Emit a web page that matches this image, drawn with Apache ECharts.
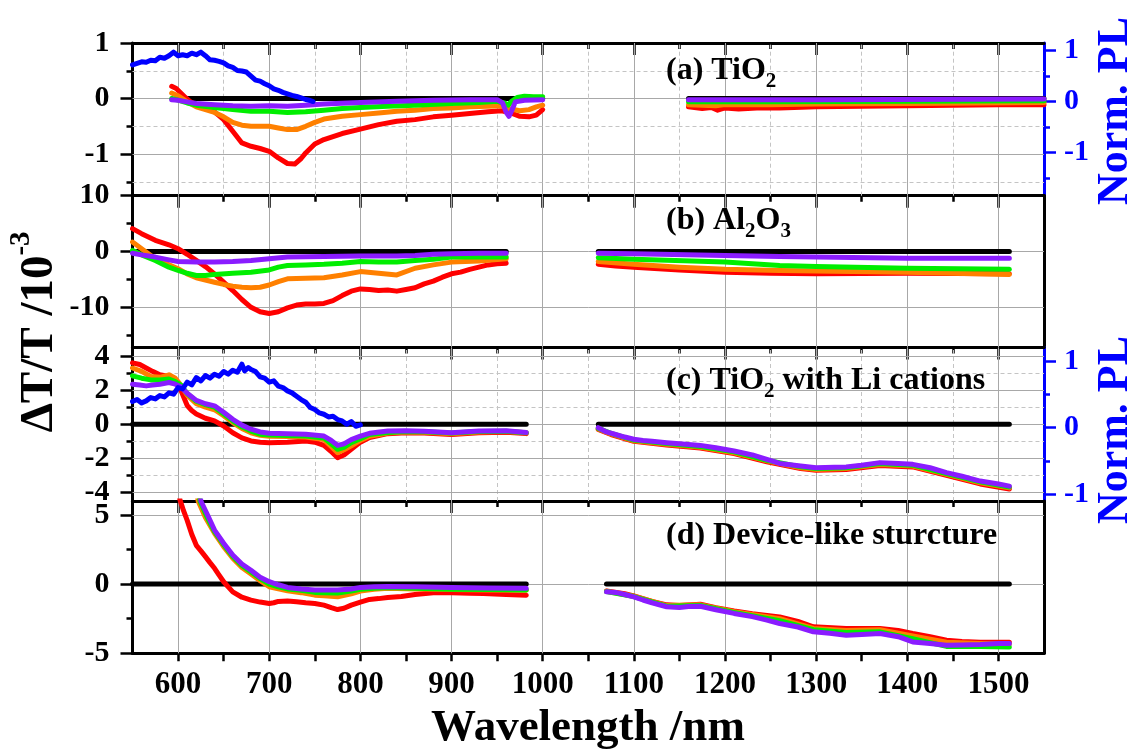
<!DOCTYPE html>
<html><head><meta charset="utf-8">
<script src="https://cdn.jsdelivr.net/npm/echarts@6/dist/echarts.min.js"></script>
<style>html,body{margin:0;padding:0;background:#fff}#c{width:1136px;height:749px}</style>
</head><body><div id="c"></div>
<script>
// ---------------- data (wavelength nm, value) ----------------
// Panel (a) TiO2  (ΔT/T in 1e-3, left axis; PL normalized, right axis)
const aBlackL = [[607,0],[700,0],[800,0],[900,0],[1000,0]];
const aBlackR = [[1160,0],[1300,0],[1450,0],[1550,0]];
const aRedL = [[593,0.22],[598,0.18],[603,0.1],[608,0.02],[613,-0.05],[620,-0.12],[630,-0.18],[640,-0.24],[650,-0.38],[660,-0.59],[670,-0.8],[680,-0.86],[690,-0.9],[700,-0.95],[710,-1.07],[720,-1.17],[728,-1.18],[735,-1.08],[740,-0.98],[750,-0.82],[760,-0.74],[780,-0.63],[800,-0.55],[820,-0.47],[840,-0.41],[860,-0.38],[880,-0.33],[900,-0.3],[920,-0.27],[940,-0.24],[955,-0.22],[965,-0.26],[975,-0.32],[985,-0.33],[993,-0.3],[1000,-0.2]];
const aRedR = [[1160,-0.15],[1175,-0.18],[1185,-0.16],[1192,-0.21],[1200,-0.17],[1215,-0.19],[1235,-0.17],[1260,-0.17],[1300,-0.15],[1350,-0.14],[1400,-0.13],[1450,-0.12],[1500,-0.11],[1550,-0.11]];
const aOrangeL = [[593,0.1],[600,0.05],[610,-0.06],[620,-0.15],[630,-0.2],[640,-0.25],[650,-0.33],[660,-0.43],[670,-0.48],[680,-0.5],[700,-0.5],[710,-0.53],[720,-0.56],[730,-0.56],[740,-0.5],[750,-0.43],[760,-0.37],[780,-0.32],[800,-0.29],[820,-0.26],[840,-0.23],[860,-0.21],[880,-0.18],[900,-0.17],[920,-0.15],[940,-0.14],[955,-0.13],[965,-0.19],[975,-0.22],[985,-0.2],[993,-0.15],[1000,-0.12]];
const aOrangeR = [[1160,-0.11],[1190,-0.13],[1200,-0.11],[1250,-0.11],[1300,-0.1],[1400,-0.09],[1550,-0.07]];
const aGreenL = [[593,0.0],[600,-0.03],[610,-0.08],[620,-0.12],[640,-0.16],[660,-0.2],[680,-0.23],[700,-0.23],[720,-0.25],[740,-0.24],[760,-0.21],[780,-0.18],[800,-0.16],[830,-0.14],[860,-0.12],[900,-0.09],[930,-0.07],[950,-0.05],[958,-0.08],[962,-0.12],[966,-0.05],[972,0.02],[980,0.04],[990,0.03],[1000,0.03]];
const aGreenR = [[1160,-0.06],[1250,-0.06],[1400,-0.05],[1550,-0.04]];
const aPurpleL = [[593,-0.02],[600,-0.03],[610,-0.06],[620,-0.09],[640,-0.11],[660,-0.13],[680,-0.14],[700,-0.13],[720,-0.14],[740,-0.12],[760,-0.1],[800,-0.07],[840,-0.05],[880,-0.03],[920,-0.02],[950,-0.02],[956,-0.08],[960,-0.25],[963,-0.32],[966,-0.22],[970,-0.06],[980,-0.03],[1000,-0.02]];
const aPurpleR = [[1160,-0.02],[1300,-0.02],[1550,-0.01]];
const aPL = [[550,0.72],[555,0.75],[560,0.78],[565,0.77],[570,0.81],[575,0.8],[580,0.87],[585,0.85],[590,0.9],[595,0.97],[600,0.9],[605,0.92],[610,0.9],[615,0.95],[620,0.92],[625,0.97],[630,0.9],[635,0.82],[640,0.81],[645,0.79],[650,0.76],[655,0.7],[660,0.67],[665,0.61],[670,0.6],[675,0.58],[680,0.5],[685,0.42],[690,0.4],[695,0.35],[700,0.31],[705,0.25],[710,0.22],[715,0.18],[720,0.15],[725,0.12],[730,0.1],[735,0.07],[740,0.04],[745,0.02],[748,0.0]];

// Panel (b) Al2O3
const bBlackL = [[555,0],[700,0],[850,0],[960,0]];
const bBlackR = [[1061,0],[1300,0],[1512,0]];
const bRedL = [[550,4.1],[560,3.2],[575,2.0],[590,1.2],[600,0.5],[610,-0.5],[620,-1.6],[630,-2.7],[640,-4.0],[650,-5.5],[660,-7.0],[670,-8.6],[680,-10.0],[690,-10.8],[700,-11.1],[710,-10.8],[720,-10.1],[730,-9.6],[740,-9.4],[750,-9.4],[760,-9.3],[770,-8.8],[780,-7.9],[790,-7.1],[800,-6.7],[810,-6.8],[820,-7.0],[830,-6.9],[840,-7.1],[850,-6.8],[860,-6.5],[870,-5.8],[880,-5.3],[890,-4.6],[900,-4.0],[910,-3.7],[920,-3.2],[930,-2.8],[940,-2.4],[950,-2.2],[960,-2.1]];
const bRedR = [[1061,-2.3],[1080,-2.6],[1100,-2.8],[1150,-3.3],[1200,-3.7],[1250,-3.9],[1300,-4.0],[1350,-3.95],[1400,-3.9],[1450,-3.95],[1512,-4.0]];
const bOrangeL = [[550,1.7],[560,0.5],[575,-1.3],[590,-2.4],[600,-3.1],[610,-4.0],[620,-4.7],[630,-5.1],[640,-5.5],[650,-5.9],[660,-6.2],[670,-6.4],[680,-6.5],[690,-6.4],[700,-6.0],[710,-5.4],[720,-4.9],[740,-4.8],[760,-4.7],[780,-4.2],[800,-3.6],[820,-3.9],[840,-4.2],[860,-3.0],[880,-2.4],[900,-1.9],[930,-1.7],[960,-1.3]];
const bOrangeR = [[1061,-1.8],[1100,-2.3],[1150,-2.8],[1200,-3.2],[1260,-3.4],[1300,-3.5],[1400,-3.7],[1450,-3.9],[1512,-4.1]];
const bGreenL = [[550,0.2],[560,-0.6],[575,-1.6],[590,-2.8],[600,-3.4],[610,-3.9],[620,-4.3],[630,-4.3],[640,-4.1],[660,-3.9],[680,-3.7],[700,-3.3],[710,-2.8],[720,-2.5],[740,-2.4],[760,-2.3],[780,-2.1],[800,-1.8],[820,-1.9],[840,-1.9],[860,-1.6],[880,-1.4],[900,-1.0],[930,-1.0],[960,-1.0]];
const bGreenR = [[1061,-1.1],[1100,-1.4],[1200,-1.9],[1260,-2.5],[1300,-2.7],[1400,-3.0],[1512,-3.2]];
const bPurpleL = [[550,-0.3],[560,-0.6],[575,-1.0],[590,-1.5],[600,-1.8],[620,-1.9],[640,-1.9],[660,-1.8],[680,-1.6],[700,-1.3],[720,-1.0],[760,-0.9],[800,-0.8],[840,-0.8],[860,-0.7],[880,-0.5],[900,-0.4],[930,-0.3],[960,-0.3]];
const bPurpleR = [[1061,-0.3],[1100,-0.4],[1200,-0.7],[1260,-0.9],[1400,-1.2],[1512,-1.2]];

// Panel (c) TiO2 with Li cations
const cBlackL = [[550,0],[700,0],[850,0],[982,0]];
const cBlackR = [[1061,0],[1300,0],[1512,0]];
const cRedL = [[550,3.6],[558,3.5],[565,3.3],[572,3.1],[580,2.9],[590,2.8],[597,2.6],[603,2.0],[610,1.1],[615,0.8],[620,0.6],[630,0.35],[640,0.2],[650,-0.1],[660,-0.5],[670,-0.8],[680,-0.98],[690,-1.05],[700,-1.08],[720,-1.05],[740,-0.98],[750,-1.05],[760,-1.24],[768,-1.6],[775,-1.96],[782,-1.8],[790,-1.47],[800,-1.05],[810,-0.78],[830,-0.55],[850,-0.5],[870,-0.52],[900,-0.6],[930,-0.5],[960,-0.47],[982,-0.55]];
const cRedR = [[1061,-0.3],[1075,-0.6],[1100,-1.0],[1136,-1.22],[1173,-1.4],[1210,-1.72],[1246,-2.2],[1283,-2.6],[1300,-2.7],[1333,-2.65],[1370,-2.42],[1406,-2.5],[1443,-3.0],[1480,-3.5],[1512,-3.8]];
const cOrangeL = [[550,3.3],[560,3.1],[570,2.8],[580,2.75],[590,2.9],[597,2.7],[603,2.3],[610,1.7],[620,1.2],[630,1.0],[640,0.85],[650,0.5],[660,0.1],[670,-0.25],[680,-0.5],[690,-0.65],[700,-0.7],[720,-0.72],[740,-0.75],[760,-0.9],[768,-1.3],[775,-1.67],[782,-1.5],[790,-1.27],[800,-0.95],[810,-0.7],[830,-0.52],[850,-0.45],[870,-0.47],[900,-0.55],[930,-0.45],[960,-0.43],[982,-0.5]];
const cOrangeR = [[1061,-0.27],[1075,-0.57],[1100,-0.97],[1136,-1.18],[1173,-1.35],[1210,-1.67],[1246,-2.15],[1283,-2.55],[1300,-2.65],[1333,-2.6],[1370,-2.36],[1406,-2.45],[1443,-2.94],[1480,-3.43],[1512,-3.73]];
const cGreenL = [[550,2.84],[560,2.7],[570,2.6],[580,2.6],[590,2.65],[597,2.5],[603,2.3],[610,1.8],[620,1.35],[630,1.15],[640,1.0],[650,0.6],[660,0.2],[670,-0.15],[680,-0.4],[690,-0.58],[700,-0.63],[720,-0.66],[740,-0.69],[760,-0.8],[768,-1.15],[775,-1.47],[782,-1.35],[790,-1.08],[800,-0.85],[810,-0.6],[830,-0.48],[850,-0.42],[870,-0.44],[900,-0.52],[930,-0.42],[960,-0.41],[982,-0.5]];
const cGreenR = [[1061,-0.24],[1075,-0.53],[1100,-0.93],[1136,-1.13],[1173,-1.3],[1210,-1.62],[1246,-2.11],[1283,-2.5],[1300,-2.6],[1333,-2.55],[1370,-2.3],[1406,-2.4],[1443,-2.89],[1480,-3.38],[1512,-3.68]];
const cPurpleL = [[550,2.35],[558,2.3],[565,2.25],[572,2.3],[580,2.35],[590,2.45],[597,2.35],[603,2.2],[610,1.82],[620,1.4],[630,1.2],[640,1.08],[650,0.7],[660,0.29],[670,-0.05],[680,-0.29],[690,-0.45],[700,-0.53],[720,-0.56],[740,-0.59],[760,-0.69],[768,-0.95],[775,-1.24],[782,-1.15],[790,-0.9],[800,-0.7],[810,-0.53],[830,-0.4],[850,-0.38],[870,-0.41],[900,-0.5],[930,-0.4],[960,-0.38],[982,-0.48]];
const cPurpleR = [[1061,-0.2],[1070,-0.45],[1080,-0.6],[1090,-0.75],[1100,-0.88],[1110,-0.95],[1120,-1.0],[1136,-1.08],[1150,-1.15],[1173,-1.24],[1190,-1.38],[1210,-1.57],[1230,-1.8],[1246,-2.06],[1260,-2.3],[1283,-2.45],[1300,-2.55],[1320,-2.52],[1333,-2.5],[1350,-2.4],[1370,-2.25],[1390,-2.3],[1406,-2.35],[1425,-2.55],[1443,-2.84],[1460,-3.05],[1480,-3.33],[1500,-3.5],[1512,-3.63]];
const cPL = [[550,0.39],[555,0.42],[560,0.37],[565,0.4],[570,0.45],[575,0.43],[580,0.48],[585,0.46],[590,0.52],[595,0.5],[600,0.6],[605,0.58],[610,0.68],[615,0.64],[620,0.75],[625,0.7],[630,0.78],[635,0.74],[640,0.8],[645,0.77],[650,0.84],[655,0.8],[660,0.86],[665,0.83],[670,0.95],[673,0.85],[677,0.9],[680,0.87],[685,0.84],[690,0.76],[695,0.74],[700,0.68],[705,0.7],[710,0.62],[715,0.6],[720,0.55],[725,0.52],[730,0.47],[735,0.42],[740,0.38],[745,0.3],[750,0.27],[755,0.22],[760,0.2],[765,0.16],[770,0.17],[775,0.12],[780,0.1],[785,0.05],[790,0.09],[795,0.02],[800,0.04]];

// Panel (d) Device-like sturcture
const dBlackL = [[550,0],[700,0],[850,0],[982,0]];
const dBlackR = [[1070,0],[1300,0],[1512,0]];
const dRedL = [[598,8],[602,6.1],[606,5.3],[610,4.6],[615,3.6],[620,2.8],[625,2.4],[630,1.98],[635,1.55],[640,1.14],[645,0.65],[650,0.17],[655,-0.2],[660,-0.56],[670,-0.95],[680,-1.16],[690,-1.3],[700,-1.4],[705,-1.35],[710,-1.25],[720,-1.22],[730,-1.28],[740,-1.35],[750,-1.4],[760,-1.52],[768,-1.7],[775,-1.84],[782,-1.75],[790,-1.52],[800,-1.3],[810,-1.11],[820,-1.05],[830,-0.97],[845,-0.9],[860,-0.75],[880,-0.63],[900,-0.63],[920,-0.66],[935,-0.68],[960,-0.75],[982,-0.8]];
const dRedR = [[1070,-0.5],[1090,-0.7],[1100,-0.85],[1120,-1.25],[1136,-1.5],[1150,-1.55],[1173,-1.45],[1190,-1.7],[1210,-1.95],[1230,-2.15],[1260,-2.37],[1280,-2.7],[1297,-3.09],[1333,-3.21],[1370,-3.21],[1390,-3.35],[1406,-3.57],[1425,-3.8],[1443,-4.06],[1460,-4.15],[1480,-4.2],[1512,-4.2]];
const dOrangeL = [[618,8],[622,6],[630,4.8],[640,3.67],[650,2.7],[660,1.86],[670,1.2],[680,0.72],[690,0.25],[700,-0.19],[710,-0.35],[720,-0.48],[735,-0.62],[750,-0.8],[760,-0.85],[775,-0.92],[790,-0.7],[800,-0.5],[815,-0.38],[830,-0.3],[860,-0.35],[900,-0.4],[940,-0.42],[982,-0.45]];
const dOrangeR = [[1070,-0.52],[1100,-0.88],[1136,-1.55],[1173,-1.5],[1210,-2.0],[1260,-2.5],[1297,-3.2],[1333,-3.35],[1370,-3.3],[1406,-3.75],[1443,-4.2],[1480,-4.3],[1512,-4.35]];
const dGreenL = [[620,8],[624,6],[632,4.8],[640,3.8],[650,2.85],[660,2.0],[670,1.35],[680,0.88],[690,0.4],[700,0.0],[710,-0.2],[720,-0.35],[735,-0.45],[750,-0.6],[760,-0.62],[775,-0.65],[790,-0.5],[800,-0.38],[815,-0.3],[830,-0.25],[860,-0.3],[900,-0.38],[940,-0.4],[982,-0.42]];
const dGreenR = [[1070,-0.54],[1100,-0.9],[1136,-1.6],[1173,-1.55],[1210,-2.05],[1260,-2.65],[1297,-3.3],[1333,-3.5],[1370,-3.45],[1406,-3.95],[1443,-4.5],[1480,-4.5],[1512,-4.55]];
const dPurpleL = [[621,8],[625,6],[633,4.9],[640,3.9],[650,2.95],[660,2.1],[670,1.45],[680,1.0],[690,0.5],[700,0.17],[710,-0.05],[720,-0.24],[735,-0.35],[750,-0.43],[760,-0.43],[775,-0.43],[790,-0.35],[800,-0.24],[815,-0.2],[830,-0.18],[860,-0.2],[900,-0.25],[940,-0.28],[982,-0.31]];
const dPurpleR = [[1070,-0.56],[1080,-0.6],[1090,-0.75],[1100,-0.92],[1110,-1.15],[1120,-1.35],[1136,-1.64],[1150,-1.69],[1160,-1.62],[1173,-1.6],[1190,-1.85],[1210,-2.12],[1230,-2.35],[1246,-2.6],[1260,-2.85],[1280,-3.1],[1297,-3.45],[1315,-3.55],[1333,-3.7],[1350,-3.65],[1370,-3.57],[1390,-3.8],[1406,-4.18],[1425,-4.3],[1443,-4.42],[1460,-4.4],[1480,-4.37],[1500,-4.3],[1512,-4.3]];

// tick values
const xMajor = [600,700,800,900,1000,1100,1200,1300,1400,1500];
const xMinor = [650,750,850,950,1050,1150,1250,1350,1450];
const xBottom = [600,650,700,750,800,850,900,950,1000,1050,1100,1150,1200,1250,1300,1350,1400,1450,1500];
const panelLabels = ['{m|(a) TiO}{s|2}', '{m|(b) Al}{s|2}{m|O}{s|3}', '{m|(c) TiO}{s|2}{m| with Li cations}', '{m|(d) Device-like sturcture}'];

// ---------------- layout / styles ----------------
const FONT = '"Liberation Serif","Times New Roman",serif';
const X_MIN = 550, X_MAX = 1550;
const LEFT = 132.5, RIGHT_EDGE = 1044;
const panels = [
  {top: 43, bottom: 195.7, yMin: -1.75, yMax: 1, yMaj: [-1,0,1], yMin2: [-1.5,-0.5,0.5], pl: {min: -1.85, max: 1.15, maj: [-1,0,1], mnr: [-1.5,-0.5,0.5]}, dashed: true, ySolid: [0,-1], yDashed: [0.5,-0.5,-1.5], labelY: 51},
  {top: 195.7, bottom: 347.5, yMin: -17.2, yMax: 10, yMaj: [-10,0,10], yMin2: [-15,-5,5], pl: null, dashed: false, ySolid: [0,-10], yDashed: [], labelY: 201},
  {top: 347.5, bottom: 501, yMin: -4.5, yMax: 4.5, yMaj: [-4,-2,0,2,4], yMin2: [-3,-1,1,3], pl: {min: -1.1, max: 1.2, maj: [-1,0,1], mnr: [-0.5,0.5]}, dashed: true, ySolid: [4,2,0,-2,-4], yDashed: [3,1,-1,-3], labelY: 361},
  {top: 501, bottom: 653.3, yMin: -5, yMax: 6, yMaj: [-5,0,5], yMin2: [-2.5,2.5], pl: null, dashed: false, ySolid: [5,0], yDashed: [], labelY: 516}
];
const seriesData = [
  {black: [aBlackL, aBlackR], red: [aRedL, aRedR], orange: [aOrangeL, aOrangeR], green: [aGreenL, aGreenR], purple: [aPurpleL, aPurpleR], pl: aPL},
  {black: [bBlackL, bBlackR], red: [bRedL, bRedR], orange: [bOrangeL, bOrangeR], green: [bGreenL, bGreenR], purple: [bPurpleL, bPurpleR], pl: null},
  {black: [cBlackL, cBlackR], red: [cRedL, cRedR], orange: [cOrangeL, cOrangeR], green: [cGreenL, cGreenR], purple: [cPurpleL, cPurpleR], pl: cPL},
  {black: [dBlackL, dBlackR], red: [dRedL, dRedR], orange: [dOrangeL, dOrangeR], green: [dGreenL, dGreenR], purple: [dPurpleL, dPurpleR], pl: null}
];
const COLORS = {black: '#000000', red: '#ff0000', orange: '#ff8000', green: '#00ee00', purple: '#8a1cff', pl: '#0000ff'};
const LW = 5;

function joinSegments(segs) {
  const out = [];
  segs.forEach((s, i) => { if (i > 0) out.push([s[0][0] - 1, null]); s.forEach(p => out.push(p)); });
  return out;
}

const grid = [], xAxis = [], yAxis = [], series = [], graphic = [];
const lbl = (sz, color) => ({fontFamily: FONT, fontWeight: 'bold', fontSize: sz, color: color, formatter: v => String(v)});

panels.forEach((p, gi) => {
  grid.push({left: LEFT, width: RIGHT_EDGE - LEFT, top: p.top, height: p.bottom - p.top, containLabel: false});
  const baseX = {type: 'value', gridIndex: gi, min: X_MIN, max: X_MAX, splitLine: {show: false}, axisLabel: {show: false}};
  const xi = xAxis.length;
  xAxis.push(Object.assign({}, baseX, {position: 'top', axisLine: {show: true, onZero: false, lineStyle: {color: '#000', width: 3}}, axisTick: {show: true, inside: true, length: 12, customValues: xMajor, lineStyle: {color: '#000', width: 2.5}}}));
  xAxis.push(Object.assign({}, baseX, {position: 'top', axisLine: {show: false, onZero: false}, axisTick: {show: true, inside: true, length: 6, customValues: xMinor, lineStyle: {color: '#000', width: 2.5}}}));
  if (gi === 3) {
    xAxis.push(Object.assign({}, baseX, {position: 'bottom', axisLine: {show: true, onZero: false, lineStyle: {color: '#000', width: 3}}, axisTick: {show: true, inside: false, length: 8, customValues: xBottom, lineStyle: {color: '#000', width: 2.5}}, axisLabel: Object.assign({show: true, customValues: xMajor, margin: 16}, lbl(31, '#000'))}));
  } else {
    xAxis.push(Object.assign({}, baseX, {position: 'bottom', axisLine: {show: true, onZero: false, lineStyle: {color: '#000', width: 3}}, axisTick: {show: false}}));
  }
  const baseY = {type: 'value', gridIndex: gi, min: p.yMin, max: p.yMax, splitLine: {show: false}};
  const yi = yAxis.length;
  yAxis.push(Object.assign({}, baseY, {position: 'left', axisLine: {show: true, onZero: false, lineStyle: {color: '#000', width: 3}}, axisTick: {show: true, inside: false, length: 12, customValues: p.yMaj, lineStyle: {color: '#000', width: 2.5}}, axisLabel: Object.assign({show: true, customValues: p.yMaj, margin: 23}, lbl(30, '#000'))}));
  yAxis.push(Object.assign({}, baseY, {position: 'left', axisLine: {show: false, onZero: false}, axisTick: {show: true, inside: false, length: 6, customValues: p.yMin2, lineStyle: {color: '#000', width: 2.5}}, axisLabel: {show: false}}));
  let plIdx = null;
  if (p.pl) {
    plIdx = yAxis.length;
    const baseR = {type: 'value', gridIndex: gi, min: p.pl.min, max: p.pl.max, position: 'right', splitLine: {show: false}};
    yAxis.push(Object.assign({}, baseR, {axisLine: {show: true, onZero: false, lineStyle: {color: '#0000ff', width: 3}}, axisTick: {show: true, inside: false, length: 12, customValues: p.pl.maj, lineStyle: {color: '#0000ff', width: 2.5}}, axisLabel: Object.assign({show: true, customValues: p.pl.maj, margin: 20}, lbl(30, '#0000ff'))}));
    yAxis.push(Object.assign({}, baseR, {axisLine: {show: false, onZero: false}, axisTick: {show: true, inside: false, length: 6, customValues: p.pl.mnr, lineStyle: {color: '#0000ff', width: 2.5}}, axisLabel: {show: false}}));
  } else {
    yAxis.push(Object.assign({}, baseY, {position: 'right', axisLine: {show: true, onZero: false, lineStyle: {color: '#000', width: 3}}, axisTick: {show: false}, axisLabel: {show: false}}));
  }
  // grid lines (drawn with the axes' scales)
  const ml = [];
  const solid = {type: 'solid', color: '#a8a8a8', width: 1};
  const dash = {type: [4, 3], color: '#c4c4c4', width: 1};
  xMajor.forEach(v => ml.push({xAxis: v, lineStyle: solid}));
  if (p.dashed) xMinor.forEach(v => ml.push({xAxis: v, lineStyle: dash}));
  p.ySolid.forEach(v => ml.push({yAxis: v, lineStyle: solid}));
  p.yDashed.forEach(v => ml.push({yAxis: v, lineStyle: dash}));
  series.push({type: 'line', xAxisIndex: xi, yAxisIndex: yi, data: [], z: 1, silent: true, animation: false,
    markLine: {z: 1, zlevel: 0, silent: true, symbol: ['none', 'none'], label: {show: false}, animation: false, data: ml}});
  const sd = seriesData[gi];
  ['black', 'red', 'orange', 'green', 'purple'].forEach((k, ki) => {
    series.push({type: 'line', xAxisIndex: xi, yAxisIndex: yi, data: joinSegments(sd[k]), showSymbol: false, symbol: 'none',
      connectNulls: false, clip: true, animation: false, silent: true, z: 3 + ki,
      lineStyle: {color: COLORS[k], width: LW, cap: 'round', join: 'round'}});
  });
  if (sd.pl) {
    series.push({type: 'line', xAxisIndex: xi, yAxisIndex: plIdx, data: sd.pl, showSymbol: false, symbol: 'none', clip: true,
      animation: false, silent: true, z: 9, lineStyle: {color: COLORS.pl, width: LW, cap: 'round', join: 'round'}});
  }
  graphic.push({type: 'text', x: 666, y: p.labelY, z: 20, silent: true, style: {
    text: panelLabels[gi], fill: '#000', align: 'left', verticalAlign: 'top', textAlign: 'left', textVerticalAlign: 'top',
    rich: {
      m: {fontFamily: FONT, fontWeight: 'bold', fontSize: 32, lineHeight: 40, fill: '#000'},
      s: {fontFamily: FONT, fontWeight: 'bold', fontSize: 21, lineHeight: 16, padding: [22, 0, 0, 0], fill: '#000'}
    }}});
});

// axis titles
graphic.push({type: 'text', x: 588, y: 728, silent: true, style: {text: 'Wavelength /nm', fill: '#000', font: 'bold 45px ' + FONT,
  align: 'center', verticalAlign: 'middle', textAlign: 'center', textVerticalAlign: 'middle'}});
graphic.push({type: 'text', x: 40, y: 332, rotation: Math.PI / 2, silent: true, style: {
  text: '{m|ΔT/T /10}{p|-3}', fill: '#000', align: 'center', verticalAlign: 'middle', textAlign: 'center', textVerticalAlign: 'middle',
  rich: {
    m: {fontFamily: FONT, fontWeight: 'bold', fontSize: 47, lineHeight: 56, fill: '#000'},
    p: {fontFamily: FONT, fontWeight: 'bold', fontSize: 29, lineHeight: 20, padding: [0, 0, 36, 0], fill: '#000'}
  }}});
[111, 430].forEach(cy => {
  graphic.push({type: 'text', x: 1116, y: cy, rotation: Math.PI / 2, silent: true, style: {
    text: 'Norm. PL', fill: '#0000ff', font: 'bold 44px ' + FONT,
    align: 'center', verticalAlign: 'middle', textAlign: 'center', textVerticalAlign: 'middle'}});
});

const chart = echarts.init(document.getElementById('c'), null, {renderer: 'canvas'});
chart.setOption({animation: false, backgroundColor: '#fff', grid, xAxis, yAxis, series, graphic});
</script></body></html>
